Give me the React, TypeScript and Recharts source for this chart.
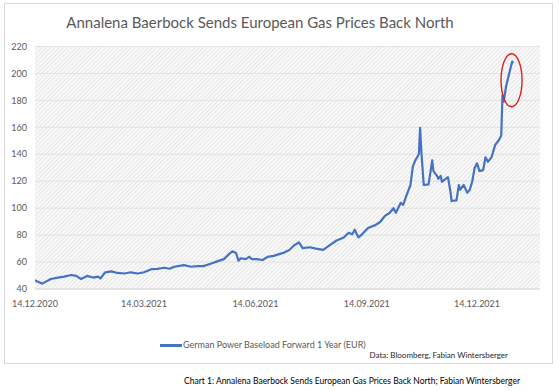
import React from "react";
import {
  LineChart,
  Line,
  XAxis,
  YAxis,
  CartesianGrid,
  Legend,
  ReferenceDot,
} from "recharts";

// Day offset since 14.12.2020
const days = [
  0, 2, 6, 13, 19, 24, 30, 34, 38, 43, 48, 52, 54, 58, 63, 68, 74, 79, 85, 90,
  96, 101, 107, 111, 115, 123, 129, 134, 139, 145, 151, 156, 160, 163, 166, 168,
  170, 174, 177, 179, 183, 188, 192, 197, 201, 205, 210, 214, 218, 221, 227, 232,
  238, 244, 249, 255, 259, 262, 264, 267, 270, 275, 281, 285, 289, 293, 296, 298,
  302, 304, 307, 310, 312, 314, 317, 318, 319, 321, 325, 328, 329, 332, 333, 335,
  336, 339, 341, 343, 344, 348, 350, 351, 354, 357, 359, 361, 363, 365, 367, 370,
  372, 374, 377, 380, 383, 385, 386, 387, 389, 394, 395,
];

const prices = [
  46.5, 45.5, 44, 47.4, 48.5, 49.2, 50.4, 49.7, 47.4, 49.7, 48.5, 49.2, 47.8, 52.4,
  53.1, 51.9, 51.5, 52.4, 51.5, 52.4, 54.7, 55, 55.8, 55, 56.5, 57.7, 56.5, 57, 57,
  58.8, 60.7, 62.2, 65.7, 68, 66.8, 61, 62.8, 62.2, 63.9, 62.2, 62.2, 61.5, 63.9,
  64.6, 65.7, 66.8, 69, 72.5, 74.6, 70.3, 71, 70, 69, 73, 76, 78.3, 81.7, 80.6, 84,
  78.3, 80.6, 85.2, 87.4, 89.7, 94.3, 96.6, 100, 96.6, 104, 102.4, 110, 117, 131,
  135.5, 140, 159.6, 142.4, 117.2, 117.7, 135.5, 127.5, 124, 121.8, 124, 119.5,
  121.8, 123, 112.6, 105.3, 105.8, 117.2, 113.7, 117.2, 111.5, 113.7, 119.5, 129.8,
  133.3, 127.5, 128.2, 137.8, 134.4, 137.8, 147, 150.4, 153.9, 183.6, 179, 190.5,
  208.8, 207.6,
];

const tickDays = [0, 90, 182, 274, 365];
const tickLabels = ["14.12.2020", "14.03.2021", "14.06.2021", "14.09.2021", "14.12.2021"];
const yTicks = [40, 60, 80, 100, 120, 140, 160, 180, 200, 220];

const seriesName = "German Power Baseload Forward 1 Year (EUR)";
const title = "Annalena Baerbock Sends European Gas Prices Back North";
const source = "Data: Bloomberg, Fabian Wintersberger";
const caption =
  "Chart 1: Annalena Baerbock Sends European Gas Prices Back North; Fabian Wintersberger";

const data = days.map((d, i) => ({ day: d, price: prices[i] }));

const FONT = "Lato, 'Open Sans', sans-serif";

const LegendContent = () => (
  <div style={{ position: "relative", width: 560, height: 20, fontFamily: FONT }}>
    <div
      style={{
        position: "absolute",
        left: 160,
        top: 6,
        width: 22,
        height: 2.5,
        background: "#4472C4",
      }}
    />
    <div
      style={{
        position: "absolute",
        left: 183,
        top: 0,
        fontSize: 9,
        color: "#595959",
        whiteSpace: "nowrap",
        lineHeight: "14px",
      }}
    >
      {seriesName}
    </div>
  </div>
);

const Ellipse = (props: any) => (
  <ellipse
    cx={props.cx}
    cy={props.cy}
    rx={10.5}
    ry={26.5}
    fill="none"
    stroke="#E02020"
    strokeWidth={1.4}
  />
);

export default function App() {
  return (
    <div
      style={{
        position: "absolute",
        left: 0,
        top: 0,
        width: 560,
        height: 391,
        background: "#ffffff",
        overflow: "hidden",
        fontFamily: FONT,
      }}
    >
      <div
        style={{
          position: "absolute",
          left: 4,
          top: 3,
          width: 547,
          height: 359,
          border: "1px solid #d9d9d9",
        }}
      />
      <div
        style={{
          position: "absolute",
          left: 0,
          width: 520,
          top: 12,
          textAlign: "center",
          fontSize: 15,
          color: "#595959",
          whiteSpace: "nowrap",
          lineHeight: "20px",
        }}
      >
        {title}
      </div>
      <div style={{ position: "absolute", left: 0, top: 0 }}>
        <LineChart
          width={560}
          height={391}
          data={data}
          margin={{ top: 46.5, right: 20, left: 0, bottom: 52 }}
        >
          <defs>
            <pattern
              id="hatch"
              width="3"
              height="3"
              patternUnits="userSpaceOnUse"
              patternTransform="rotate(45)"
            >
              <rect width="3" height="3" fill="#f9f9f9" />
              <line x1="0" y1="0" x2="0" y2="3" stroke="#dcdcdc" strokeWidth="1.2" />
            </pattern>
          </defs>
          <CartesianGrid
            vertical={false}
            stroke="#e2e2e2"
            fill="url(#hatch)"
            fillOpacity={1}
          />
          <XAxis
            dataKey="day"
            type="number"
            domain={[0, 417]}
            ticks={tickDays}
            tickFormatter={(v: number) => tickLabels[tickDays.indexOf(v)] ?? ""}
            height={30}
            axisLine={{ stroke: "#d9d9d9" }}
            tickLine={false}
            tickMargin={6}
            tick={{ fontSize: 9, fill: "#595959", fontFamily: FONT }}
            interval={0}
            allowDataOverflow
          />
          <YAxis
            type="number"
            domain={[40, 220]}
            ticks={yTicks}
            width={35}
            axisLine={false}
            tickLine={false}
            tick={{ fontSize: 9, fill: "#595959", fontFamily: FONT }}
            interval={0}
          />
          <Line
            type="linear"
            dataKey="price"
            name={seriesName}
            stroke="#4472C4"
            strokeWidth={2.2}
            dot={false}
            isAnimationActive={false}
            strokeLinejoin="round"
          />
          <ReferenceDot x={393.5} y={195} shape={Ellipse} ifOverflow="visible" />
          <Legend
            content={LegendContent}
            wrapperStyle={{ position: "absolute", left: 0, top: 338, width: 560 }}
          />
        </LineChart>
      </div>
      <div
        style={{
          position: "absolute",
          right: 52,
          top: 349,
          fontSize: 8,
          color: "#262626",
          whiteSpace: "nowrap",
          lineHeight: "12px",
        }}
      >
        {source}
      </div>
      <div
        style={{
          position: "absolute",
          right: 40,
          top: 375,
          fontSize: 8.5,
          color: "#000000",
          whiteSpace: "nowrap",
          lineHeight: "12px",
        }}
      >
        {caption}
      </div>
    </div>
  );
}
